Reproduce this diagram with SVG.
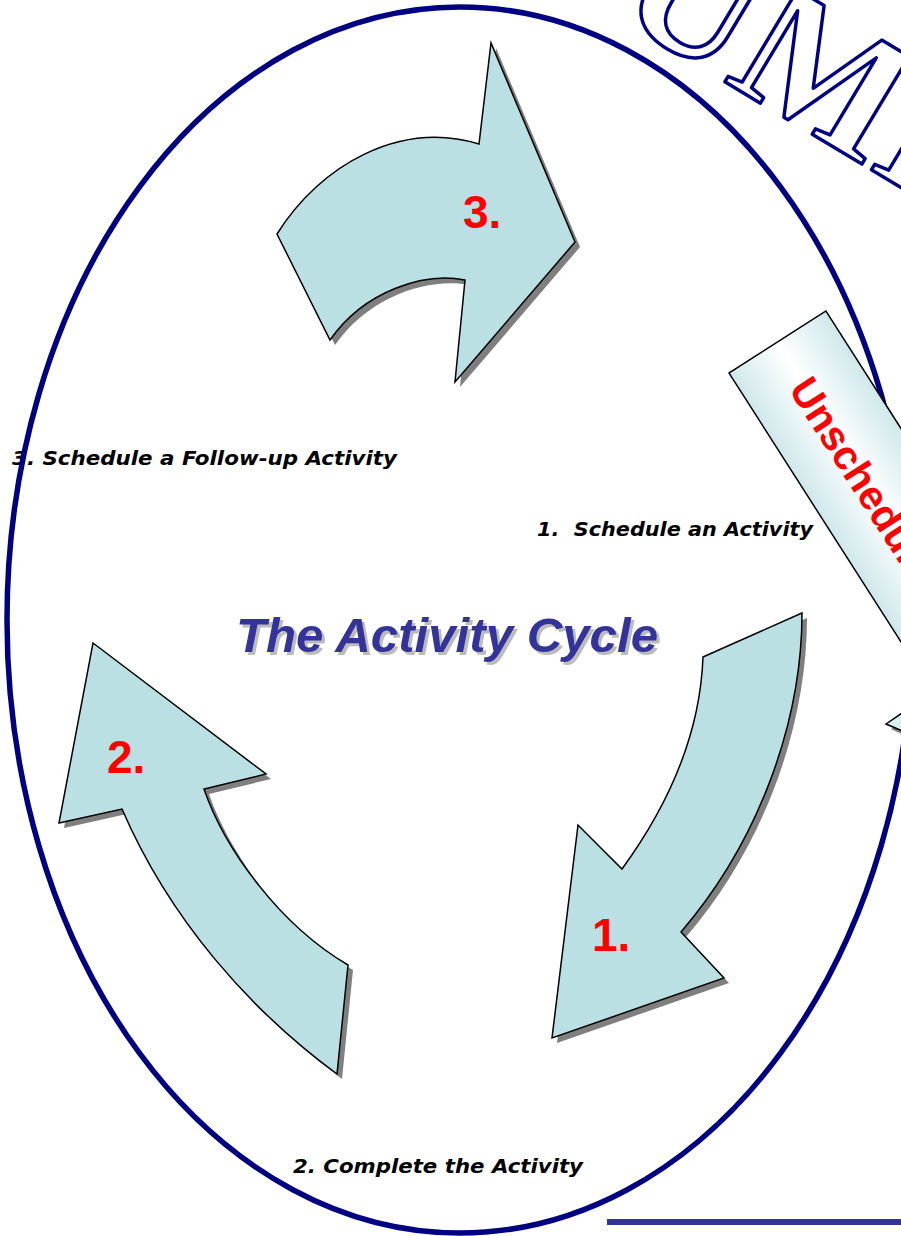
<svg xmlns="http://www.w3.org/2000/svg" xmlns:xlink="http://www.w3.org/1999/xlink" width="901" height="1236" viewBox="0 0 901 1236">
  <style>
    .arrow { fill: #bbe0e3; stroke: #000000; stroke-width: 1.5; stroke-linejoin: miter; }
    .shadow { fill: #7f7f7f; stroke: none; }
    .num { font-family: "Liberation Sans", Arial, sans-serif; font-weight: bold; font-size: 46px; fill: #ff0000; }
    .step { font-family: "DejaVu Sans", Verdana, sans-serif; font-weight: bold; font-style: italic; font-size: 20px; fill: #000000; white-space: pre; }
    .title { font-family: "Liberation Sans", Arial, sans-serif; font-weight: bold; font-style: italic; font-size: 48px; }
    .outline-word { font-family: "Liberation Serif", "Times New Roman", serif; font-weight: bold; font-size: 178px; fill: none; stroke: #000080; stroke-width: 3.5; stroke-linejoin: round; }
  </style>
  <defs>
    <linearGradient id="bannerFill" x1="0" y1="0" x2="0" y2="1">
      <stop offset="0" stop-color="#cfe8eb"/>
      <stop offset="0.5" stop-color="#ffffff"/>
      <stop offset="1" stop-color="#cfe8eb"/>
    </linearGradient>
    <path id="arrow3" d="M277,234 C320,165 400,120 479,144 L491,43 L575,242 L455,382 L465,280 C425,272 365,290 330,340 Z"/>
    <path id="arrow1" d="M703,657 L802,613 C802,720 760,840 681,932 L724,978 L552,1038 L578,825 L622,869 C665,810 700,740 703,657 Z"/>
    <path id="arrow2" d="M93,643 L266,774 L204,789 C225,850 280,925 348,965 L337,1074 C250,1010 170,920 122,809 L59,823 Z"/>
  </defs>

  <rect width="901" height="1236" fill="#ffffff"/>

  <!-- big outlined lettering along the top right -->
  <g id="outline-lettering">
    <text class="outline-word" transform="translate(612,14) rotate(31)">UMI</text>
  </g>

  <!-- step captions -->
  <g id="captions">
    <text class="step" x="12" y="465" textLength="385" lengthAdjust="spacingAndGlyphs">3. Schedule a Follow-up Activity</text>
    <text class="step" x="537" y="536" textLength="276" lengthAdjust="spacingAndGlyphs">1.  Schedule an Activity</text>
    <text class="step" x="293" y="1173" textLength="290" lengthAdjust="spacingAndGlyphs">2. Complete the Activity</text>
  </g>

  <!-- the cycle boundary -->
  <g id="cycle-boundary">
    <ellipse cx="460" cy="620" rx="453" ry="613" fill="none" stroke="#000080" stroke-width="5.5"/>
  </g>

  <!-- title -->
  <g id="title">
    <text class="title" x="239" y="655" fill="#bcbcbc" textLength="422" lengthAdjust="spacingAndGlyphs">The Activity Cycle</text>
    <text class="title" x="236" y="652" fill="#333399" textLength="422" lengthAdjust="spacingAndGlyphs">The Activity Cycle</text>
  </g>

  <!-- the three curved step arrows -->
  <g id="step-arrows">
    <g id="step-3">
      <use xlink:href="#arrow3" class="shadow" transform="translate(5,5)"/>
      <use xlink:href="#arrow3" class="arrow"/>
      <text class="num" x="463" y="228">3.</text>
    </g>
    <g id="step-1">
      <use xlink:href="#arrow1" class="shadow" transform="translate(5,5)"/>
      <use xlink:href="#arrow1" class="arrow"/>
      <text class="num" x="592" y="951">1.</text>
    </g>
    <g id="step-2">
      <use xlink:href="#arrow2" class="shadow" transform="translate(5,5)"/>
      <use xlink:href="#arrow2" class="arrow"/>
      <text class="num" x="107" y="773">2.</text>
    </g>
  </g>

  <!-- unscheduled banner -->
  <g id="unscheduled">
    <rect transform="translate(729,373) rotate(57.4)" x="0" y="-115" width="600" height="115" fill="url(#bannerFill)" stroke="#000000" stroke-width="1.5"/>
    <text transform="translate(788,389) rotate(57.4)" font-family="Liberation Sans, Arial, sans-serif" font-weight="bold" font-size="41" fill="#ff0000">Unscheduled</text>
  </g>

  <g id="side-pointer">
    <polygon points="891,729 910,717 910,738" class="shadow"/>
    <polygon points="886,724 905,711 905,732" fill="#d8eef0" stroke="#000000" stroke-width="1.5"/>
  </g>

  <g id="connectors"/>

  <!-- footer rule -->
  <rect x="607" y="1219" width="294" height="6" fill="#333399"/>
</svg>
